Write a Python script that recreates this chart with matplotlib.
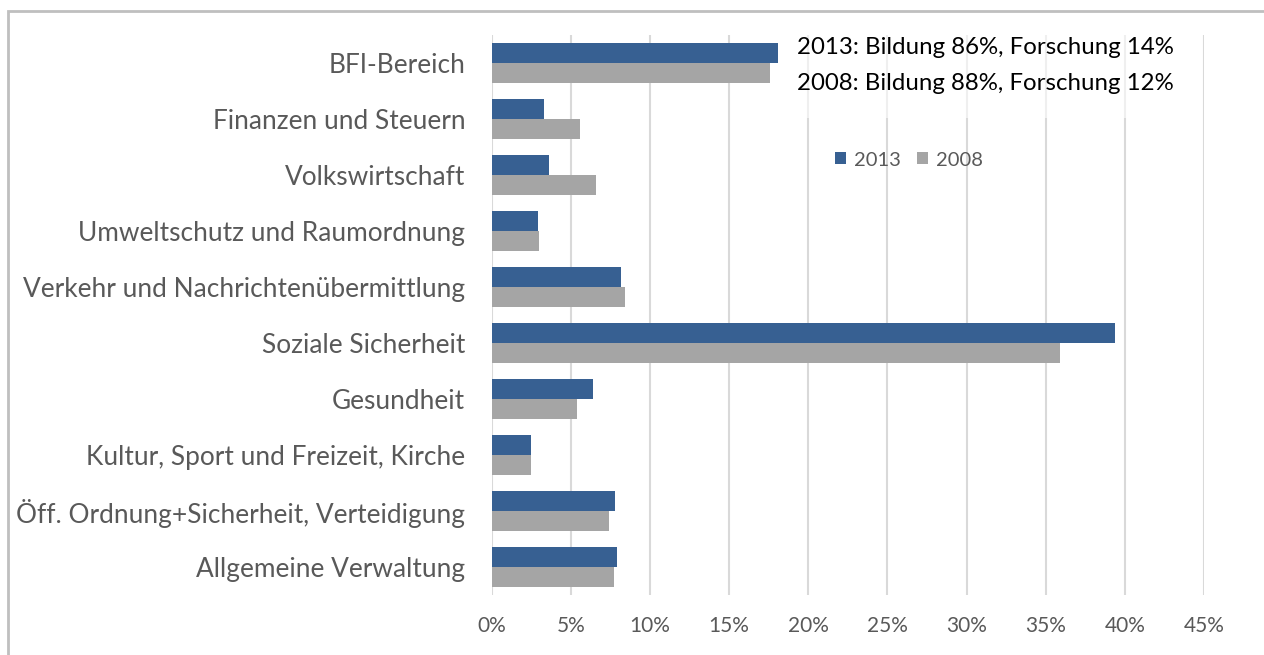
import matplotlib
matplotlib.use("Agg")
import matplotlib.pyplot as plt
import numpy as np
from matplotlib.patches import Rectangle

plt.rcParams['font.family'] = ['Lato', 'DejaVu Sans']

categories = ['BFI-Bereich', 'Finanzen und Steuern', 'Volkswirtschaft',
              'Umweltschutz und Raumordnung', 'Verkehr und Nachrichtenübermittlung',
              'Soziale Sicherheit', 'Gesundheit', 'Kultur, Sport und Freizeit, Kirche',
              'Öff. Ordnung+Sicherheit, Verteidigung', 'Allgemeine Verwaltung']
values_2013 = [18.1, 3.3, 3.6, 2.9, 8.2, 39.4, 6.4, 2.5, 7.8, 7.9]
values_2008 = [17.6, 5.6, 6.6, 3.0, 8.4, 35.9, 5.4, 2.5, 7.4, 7.7]
xticks = [0, 5, 10, 15, 20, 25, 30, 35, 40, 45]
note_lines = ['2013: Bildung 86%, Forschung 14%', '2008: Bildung 88%, Forschung 12%']

blue = '#376092'
grey = '#A5A5A5'
label_col = '#595959'

W, H = 1264, 655
fig = plt.figure(figsize=(W / 100, H / 100), dpi=100)
ax = fig.add_axes([491.7 / W, (H - 595) / H, (1204 - 491.7) / W, (595 - 35) / H])

y = np.arange(len(categories))
h = 0.357
ax.barh(y - h / 2, values_2013, height=h, color=blue, label='2013', zorder=3)
ax.barh(y + h / 2, values_2008, height=h, color=grey, label='2008', zorder=3)

ax.set_ylim(len(categories) - 0.5, -0.5)
ax.set_xlim(0, 45)
ax.set_xticks(xticks)
ax.set_xticklabels([f'{t}%' for t in xticks])
ax.set_yticks(y)
ax.set_yticklabels(categories)
ax.tick_params(axis='y', length=0, pad=19, labelsize=18.9, labelcolor=label_col)
ax.tick_params(axis='x', length=0, pad=15, labelsize=15, labelcolor=label_col)
ax.grid(axis='x', color='#D9D9D9', linewidth=1.5, zorder=0)
for s in ax.spines.values():
    s.set_visible(False)

# note text box (semi-transparent white over the grid)
ax.add_patch(Rectangle((18.9, -0.5), 24.6, 1.48, transform=ax.transData,
                       facecolor='white', alpha=0.6, edgecolor='none', zorder=2))
ax.text(797 / W, (H - 48) / H, note_lines[0], transform=fig.transFigure,
        fontsize=17.3, color='black', va='center', ha='left')
ax.text(797 / W, (H - 83) / H, note_lines[1], transform=fig.transFigure,
        fontsize=17.3, color='black', va='center', ha='left')

leg = ax.legend(loc='center', bbox_to_anchor=(909 / W, (H - 160) / H),
                bbox_transform=fig.transFigure, ncol=2, frameon=False,
                fontsize=14.5, handlelength=0.55, handleheight=0.55,
                handletextpad=0.4, columnspacing=0.8, labelcolor=label_col)

# outer chart border
fig.add_artist(Rectangle((8 / W, -0.1), 1.2, (H - 11) / H + 0.1,
                         transform=fig.transFigure, fill=False,
                         edgecolor='#BFBFBF', linewidth=2))

fig.savefig('out.png', dpi=100)
